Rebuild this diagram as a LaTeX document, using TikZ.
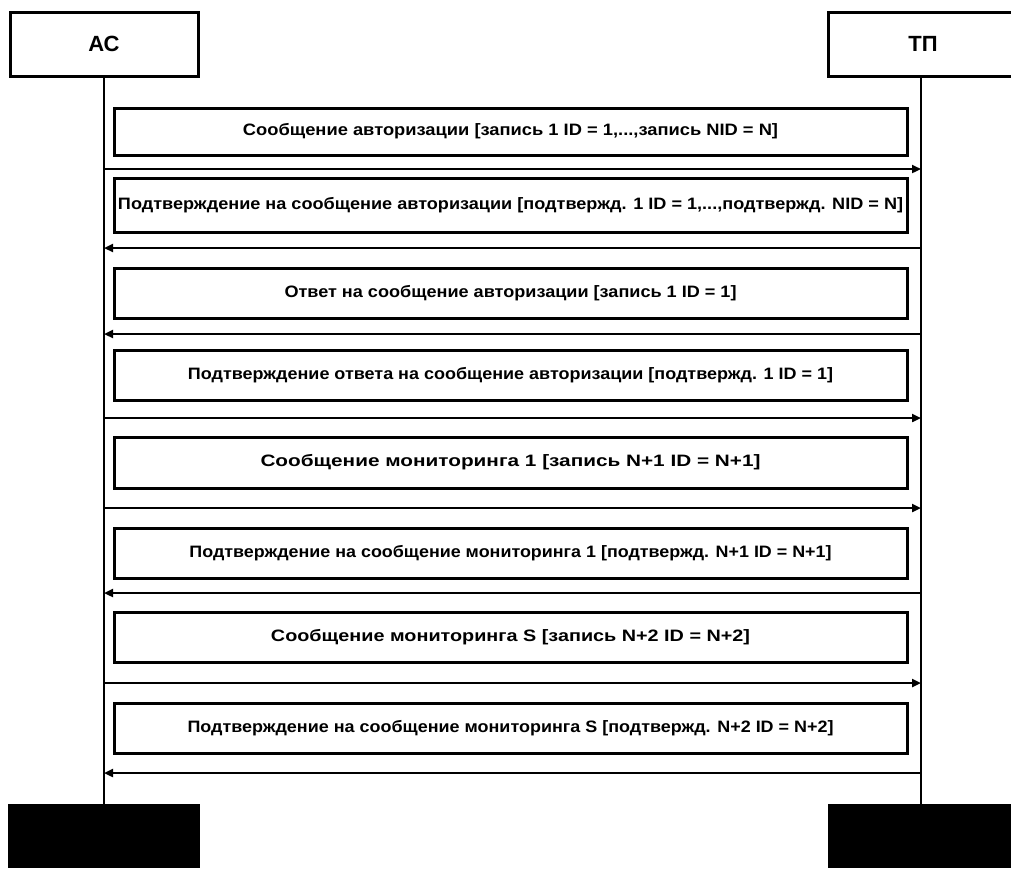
\documentclass[tikz,border=0pt]{standalone}
\usepackage{fontspec}
\setmainfont{Liberation Sans}
\usepackage{graphicx}
\usetikzlibrary{arrows.meta}
\begin{document}
\begin{tikzpicture}[x=1pt,y=-1pt,
  actor/.style={draw, line width=3pt, minimum width=188pt, minimum height=64pt, inner sep=0pt,
    font=\bfseries\fontsize{22}{22}\selectfont},
  blk/.style={fill=black, draw=none, minimum width=192pt, minimum height=64pt, inner sep=0pt},
  msg/.style={draw, line width=3pt, minimum width=793pt, inner sep=0pt,
    font=\bfseries\fontsize{16.5}{17}\selectfont},
  life/.style={line width=2.2pt},
  msgarrow/.style={line width=2.2pt, -{Triangle[length=9pt,width=8pt]}}
]
\useasboundingbox (0,0) rectangle (1011,868);
% actors
\node[actor] (ac) at (104,44) {АС};
\node[actor, minimum width=190pt] (tp) at (923,44) {ТП};
\node[blk] (acend) at (104,836) {};
\node[blk, minimum width=186pt] (tpend) at (921,836) {};
% lifelines
\draw[life] (ac.south) -- (acend.north);
\draw[life] (921,76) coordinate (tptop) -- (tpend.north);
% message boxes
\node[msg, minimum height=47pt] (m1) at (510.5,131.5) {\resizebox{535pt}{\height}{Сообщение авторизации [запись 1 ID = 1,...,запись NID = N]}};
\node[msg, minimum height=54pt] (m2) at (510.5,205) {\resizebox{785pt}{\height}{Подтверждение на сообщение авторизации [подтвержд. 1 ID = 1,...,подтвержд. NID = N]}};
\node[msg, minimum height=50pt] (m3) at (510.5,293) {\resizebox{452pt}{\height}{Ответ на сообщение авторизации [запись 1 ID = 1]}};
\node[msg, minimum height=50pt] (m4) at (510.5,375) {\resizebox{645pt}{\height}{Подтверждение ответа на сообщение авторизации [подтвержд. 1 ID = 1]}};
\node[msg, minimum height=51pt] (m5) at (510.5,462.5) {\resizebox{500pt}{\height}{Сообщение мониторинга 1 [запись N+1 ID = N+1]}};
\node[msg, minimum height=50pt] (m6) at (510.5,553) {\resizebox{642pt}{\height}{Подтверждение на сообщение мониторинга 1 [подтвержд. N+1 ID = N+1]}};
\node[msg, minimum height=50pt] (m7) at (510.5,637) {\resizebox{479pt}{\height}{Сообщение мониторинга S [запись N+2 ID = N+2]}};
\node[msg, minimum height=50pt] (m8) at (510.5,728) {\resizebox{646pt}{\height}{Подтверждение на сообщение мониторинга S [подтвержд. N+2 ID = N+2]}};
% arrow end points on lifelines
\foreach \i/\y in {1/169,2/248,3/334,4/418,5/508,6/593,7/683,8/773}{
  \coordinate (l\i) at (104,\y);
  \coordinate (r\i) at (921,\y);
}
\draw[msgarrow] (l1) -- (r1);
\draw[msgarrow] (r2) -- (l2);
\draw[msgarrow] (r3) -- (l3);
\draw[msgarrow] (l4) -- (r4);
\draw[msgarrow] (l5) -- (r5);
\draw[msgarrow] (r6) -- (l6);
\draw[msgarrow] (l7) -- (r7);
\draw[msgarrow] (r8) -- (l8);
\end{tikzpicture}
\end{document}
